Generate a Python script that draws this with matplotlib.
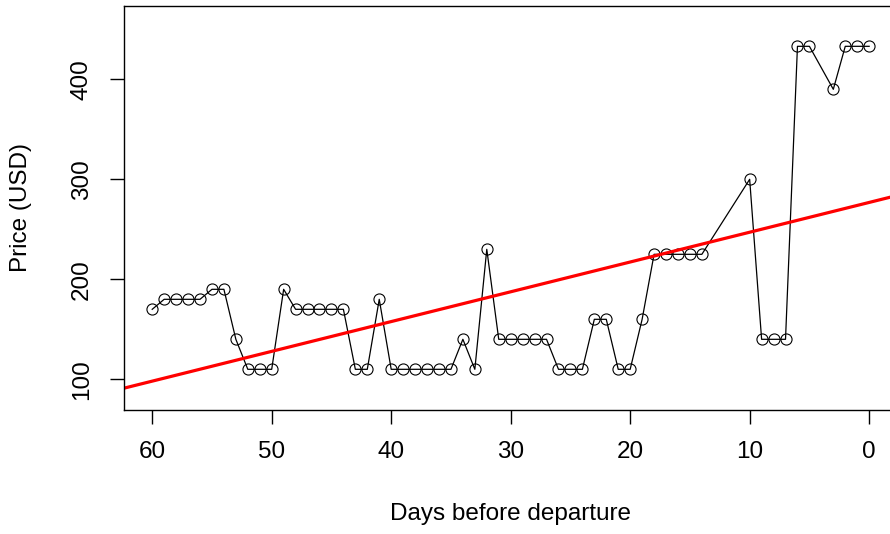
import numpy as np
import matplotlib.pyplot as plt

plt.rcParams['font.family'] = ['Liberation Sans', 'DejaVu Sans']

# days before departure and observed ticket price
days = [60, 59, 58, 57, 56, 55, 54, 53, 52, 51, 50, 49, 48, 47, 46, 45, 44,
        43, 42, 41, 40, 39, 38, 37, 36, 35, 34, 33, 32, 31, 30, 29, 28, 27,
        26, 25, 24, 23, 22, 21, 20, 19, 18, 17, 16, 15, 14, 10, 9, 8, 7, 6,
        5, 3, 2, 1, 0]
price = [170, 180, 180, 180, 180, 190, 190, 140, 110, 110, 110, 190, 170,
         170, 170, 170, 170, 110, 110, 180, 110, 110, 110, 110, 110, 110,
         140, 110, 230, 140, 140, 140, 140, 140, 110, 110, 110, 160, 160,
         110, 110, 160, 225, 225, 225, 225, 225, 300, 140, 140, 140, 433,
         433, 390, 433, 433, 433]
xticks = [60, 50, 40, 30, 20, 10, 0]
yticks = [100, 200, 300, 400]

fig = plt.figure(figsize=(8.9, 5.34), dpi=100)
ax = fig.add_axes([0.1388, 0.2322, 0.870, 0.7571])

ax.plot(days, price, '-o', color='black', lw=0.9, ms=8,
        mfc='none', mec='black', mew=0.8)

# least squares trend line
slope, icpt = np.polyfit(days, price, 1)
xl = np.array([63, -3])
ax.plot(xl, icpt + slope * xl, color='red', lw=2.3)

ax.set_xlim(62.4, -2.4)
ax.set_ylim(69.3, 473.6)
ax.set_xticks(xticks)
ax.set_yticks(yticks)
ax.tick_params(length=10, width=1, pad=12, labelsize=17.5, colors='black')
for lab in ax.get_yticklabels():
    lab.set_rotation(90)
    lab.set_va('center')
for sp in ax.spines.values():
    sp.set_linewidth(1)

fig.text(510.6 / 890, 1 - 514.3 / 534, 'Days before departure',
         ha='center', va='center', fontsize=17.5)
fig.text(21 / 890, 1 - 207 / 534, 'Price (USD)', rotation=90,
         ha='center', va='center', fontsize=17.5)

fig.savefig('out.png', dpi=100)
